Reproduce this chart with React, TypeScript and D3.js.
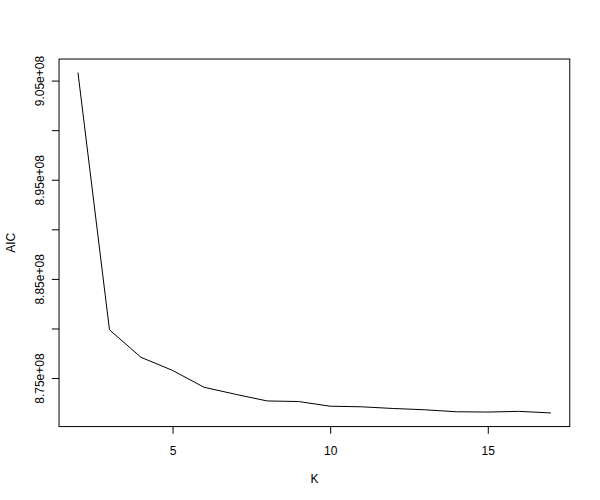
import { useEffect, useMemo, useRef } from 'react';
import * as d3 from 'd3';

// K values and the AIC measured at each one
const ks = [2, 3, 4, 5, 6, 7, 8, 9, 10, 11, 12, 13, 14, 15, 16, 17];
const aic = [
    9.058e8, 8.7986e8, 8.7709e8, 8.7577e8, 8.7407e8, 8.7336e8, 8.7269e8, 8.7263e8,
    8.7216e8, 8.721e8, 8.7193e8, 8.718e8, 8.716e8, 8.7157e8, 8.7164e8, 8.7148e8,
];
const xTicks = [5, 10, 15];
const yTicks = [8.75e8, 8.8e8, 8.85e8, 8.9e8, 8.95e8, 9.0e8, 9.05e8];
// R drops every other label because they would overlap
const yLabels = ['8.75e+08', '', '8.85e+08', '', '8.95e+08', '', '9.05e+08'];

const width = 600;
const height = 500;
const margin = { top: 59.04, right: 30.24, bottom: 73.44, left: 59.04 };
const font = '"Liberation Sans", Arial, sans-serif';

// R pads the data range by 4% on each side
function padded(values: number[]): [number, number] {
    const [lo, hi] = d3.extent(values) as [number, number];
    const pad = (hi - lo) * 0.04;
    return [lo - pad, hi + pad];
}

export default function App() {
    const xAxisEl = useRef<SVGGElement>(null);
    const yAxisEl = useRef<SVGGElement>(null);

    const [xScale, yScale] = useMemo(() => {
        const x = d3
            .scaleLinear()
            .domain(padded(ks))
            .range([margin.left, width - margin.right]);
        const y = d3
            .scaleLinear()
            .domain(padded(aic))
            .range([height - margin.bottom, margin.top]);
        return [x, y] as const;
    }, []);

    const path = useMemo(() => {
        const line = d3
            .line<number>()
            .x((_d, i) => xScale(ks[i]))
            .y((d) => yScale(d));
        return line(aic) || '';
    }, [xScale, yScale]);

    useEffect(() => {
        if (xAxisEl.current) {
            d3.select(xAxisEl.current)
                .call(
                    d3
                        .axisBottom(xScale)
                        .tickValues(xTicks)
                        .tickSize(7.2)
                        .tickPadding(13)
                        .tickFormat((d) => String(d))
                )
                .call((g) => g.select('.domain').remove())
                .call((g) =>
                    g
                        .selectAll('text')
                        .attr('font-family', font)
                        .attr('font-size', 12)
                        .attr('fill', '#000')
                );
        }
        if (yAxisEl.current) {
            d3.select(yAxisEl.current)
                .call(
                    d3
                        .axisLeft(yScale)
                        .tickValues(yTicks)
                        .tickSize(7.2)
                        .tickFormat((_d, i) => yLabels[i])
                )
                .call((g) => g.select('.domain').remove())
                .call((g) =>
                    g
                        .selectAll('text')
                        .attr('font-family', font)
                        .attr('font-size', 12)
                        .attr('fill', '#000')
                        .attr('x', null)
                        .attr('dy', null)
                        .attr('text-anchor', 'middle')
                        .attr('transform', 'translate(-14.7, 0) rotate(-90)')
                );
        }
    }, [xScale, yScale]);

    return (
        <svg
            width={width}
            height={height}
            viewBox={`0 0 ${width} ${height}`}
            style={{ display: 'block', position: 'absolute', left: 0, top: 0, background: '#fff' }}
        >
            <rect x={0} y={0} width={width} height={height} fill="#fff" />
            <rect
                x={margin.left}
                y={margin.top}
                width={width - margin.left - margin.right}
                height={height - margin.top - margin.bottom}
                fill="none"
                stroke="#000"
                strokeWidth={1}
            />
            <path d={path} fill="none" stroke="#000" strokeWidth={1} />
            <g ref={xAxisEl} transform={`translate(0, ${height - margin.bottom})`} />
            <g ref={yAxisEl} transform={`translate(${margin.left}, 0)`} />
            <text
                x={(margin.left + width - margin.right) / 2}
                y={483}
                textAnchor="middle"
                fontFamily={font}
                fontSize={12}
            >
                K
            </text>
            <text
                transform={`translate(15, ${(margin.top + height - margin.bottom) / 2}) rotate(-90)`}
                textAnchor="middle"
                fontFamily={font}
                fontSize={12}
            >
                AIC
            </text>
        </svg>
    );
}
